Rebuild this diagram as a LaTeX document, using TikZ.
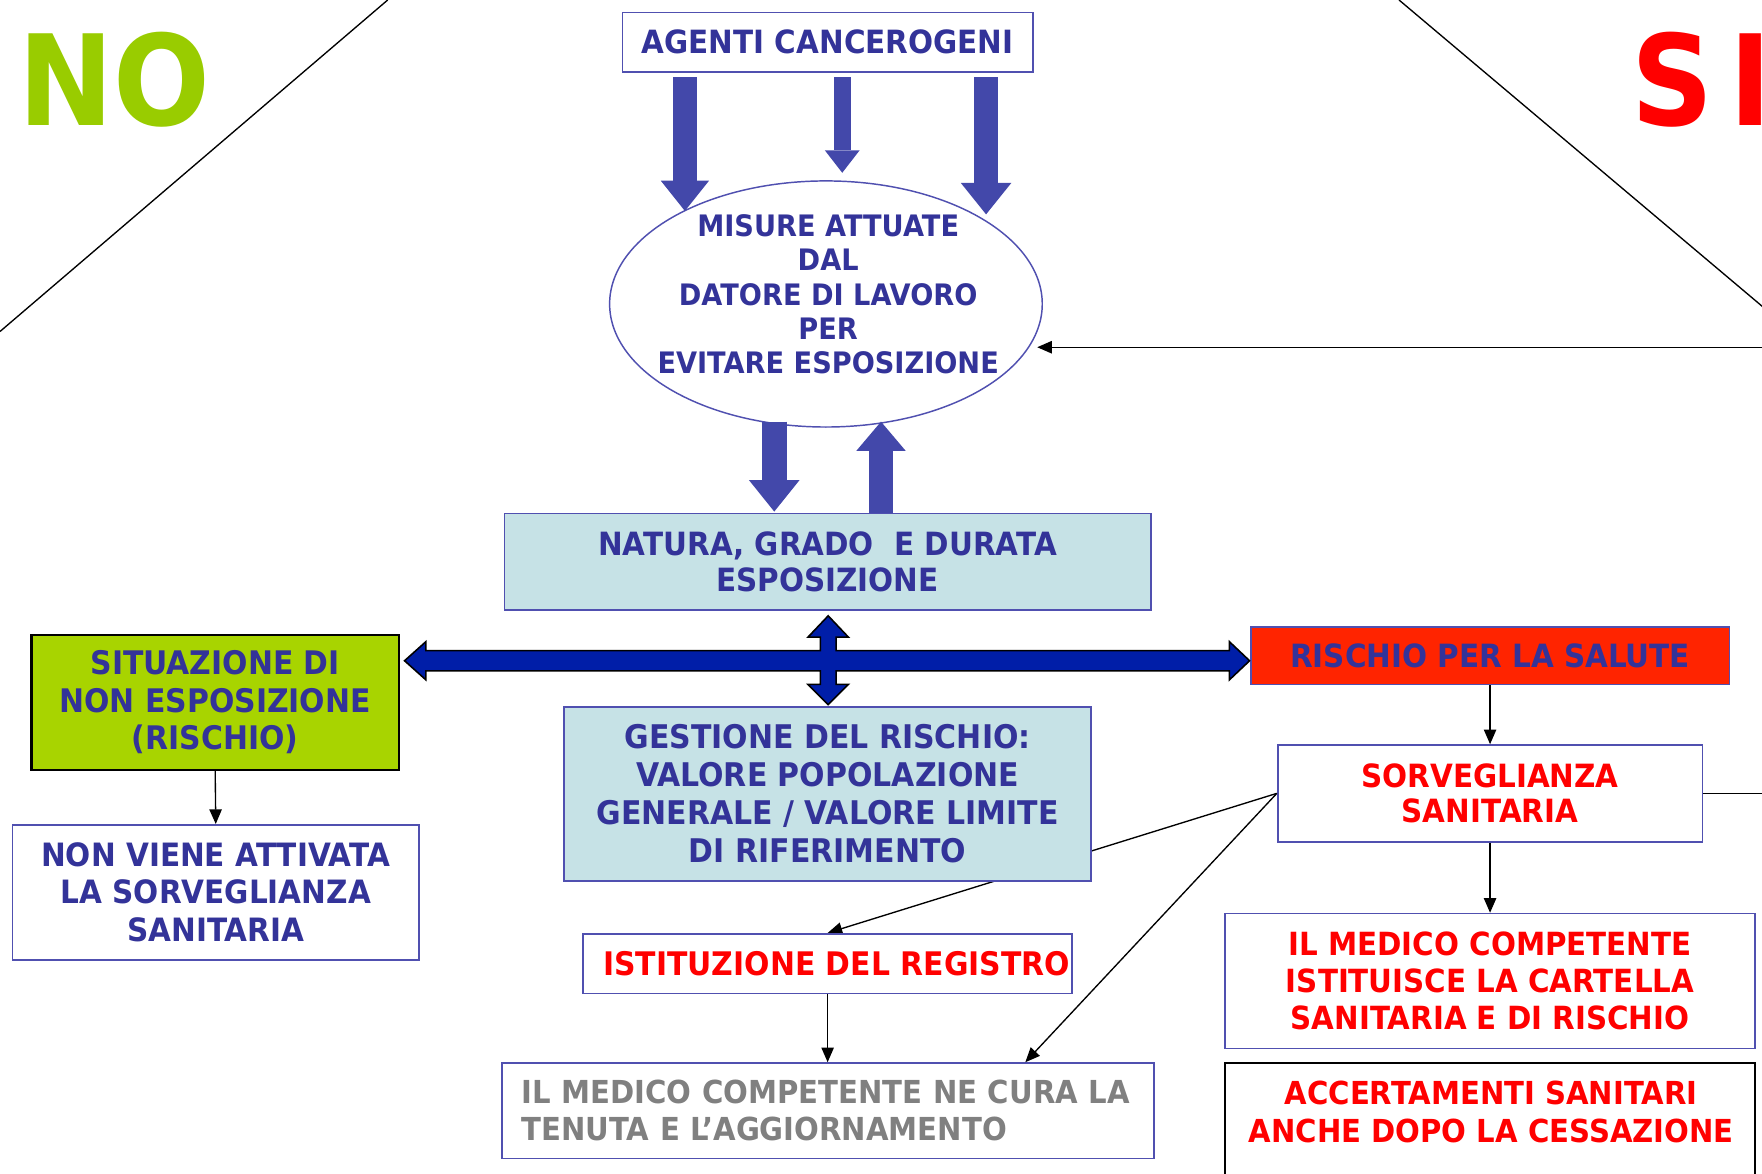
\documentclass[tikz,border=0pt]{standalone}
\usepackage{fontspec}
\setmainfont{DejaVu Sans}
\newfontfamily\dvb[FakeStretch=0.92]{DejaVu Sans}
\newfontfamily\dvbig[FakeStretch=0.905]{DejaVu Sans}
\usetikzlibrary{arrows.meta,shapes.geometric,calc}
\pgfdeclarelayer{bg}
\pgfsetlayers{bg,main}
\definecolor{txtblue}{RGB}{51,51,153}
\definecolor{bordblue}{RGB}{80,80,176}
\definecolor{lightblue}{RGB}{198,226,230}
\definecolor{arrblue}{RGB}{67,72,170}
\definecolor{crossblue}{RGB}{0,30,168}
\definecolor{greenfill}{RGB}{168,212,0}
\definecolor{nogreen}{RGB}{153,204,0}
\definecolor{redfill}{RGB}{255,36,0}
\definecolor{redtxt}{RGB}{255,0,0}
\definecolor{graytxt}{RGB}{128,128,128}
\begin{document}
\begin{tikzpicture}[x=1pt,y=-1pt,
  txt/.style={font=\dvb\bfseries\fontsize{28.5}{33}\selectfont, text=txtblue, align=center, inner sep=0pt},
  box/.style={txt, draw=bordblue, line width=1.5pt, fill=white},
  redt/.style={text=redtxt},
  conn/.style={draw=black, line width=1.2pt, -{Triangle[length=13pt,width=11pt]}},
  fat/.style={draw=arrblue},
  bigtxt/.style={font=\dvbig\bfseries\fontsize{112}{112}\selectfont, inner sep=0pt, anchor=base west}
]
\useasboundingbox (0,0) rectangle (1568,1044);
\begin{pgfonlayer}{bg}
\fill[white] (0,0) rectangle (1568,1044);
\end{pgfonlayer}

% dividers
\draw[line width=1.2pt] (0,295) -- (345,0);
\draw[line width=1.2pt] (1245,0) -- (1590,291);

\node[bigtxt, text=nogreen] (no) at (16,112) {NO};
\node[bigtxt, text=redtxt] (si) at (1452,112) {S\kern14pt I};

% nodes
\node[box, minimum width=365, minimum height=53] (agenti) at (736.5,37.5) {AGENTI CANCEROGENI};
\node[ellipse, draw=bordblue, line width=1.3pt, fill=white, minimum width=385, minimum height=219, inner sep=0pt] (ell) at (735,270.5) {};
\node[txt, font=\dvb\bfseries\fontsize{26.3}{30.5}\selectfont] (elltext) at (737,262) {MISURE ATTUATE\\DAL\\DATORE DI LAVORO\\PER\\EVITARE ESPOSIZIONE};
\node[box, fill=lightblue, minimum width=575, minimum height=86, font=\dvb\bfseries\fontsize{28.5}{32}\selectfont] (nat) at (736.5,500) {NATURA, GRADO\ \ E DURATA\\ESPOSIZIONE};
\node[box, fill=greenfill, draw=black, line width=2pt, minimum width=327, minimum height=120, font=\dvb\bfseries\fontsize{28.9}{33.5}\selectfont] (sit) at (191.5,625) {SITUAZIONE DI\\NON ESPOSIZIONE\\(RISCHIO)};
\node[box, minimum width=362, minimum height=120, font=\dvb\bfseries\fontsize{28.6}{33}\selectfont] (nonv) at (192,794) {NON VIENE ATTIVATA\\LA SORVEGLIANZA\\SANITARIA};
\node[box, fill=lightblue, minimum width=469, minimum height=155, font=\dvb\bfseries\fontsize{29}{33.7}\selectfont] (gest) at (736.5,706.5) {GESTIONE DEL RISCHIO:\\VALORE POPOLAZIONE\\GENERALE / VALORE LIMITE\\DI RIFERIMENTO};
\node[box, fill=redfill, minimum width=426, minimum height=51] (risk) at (1326,583.5) {RISCHIO PER LA SALUTE};
\node[box, redt, minimum width=378, minimum height=86, font=\dvb\bfseries\fontsize{28.5}{32}\selectfont] (sorv) at (1326,706) {SORVEGLIANZA\\SANITARIA};
\node[box, redt, minimum width=435, minimum height=53, font=\dvb\bfseries\fontsize{28.9}{33}\selectfont] (ist) at (736.5,857.5) {\hspace*{16pt}ISTITUZIONE DEL REGISTRO};
\node[box, text=graytxt, minimum width=580, minimum height=85, text width=546, align=left, font=\dvb\bfseries\fontsize{28.2}{33}\selectfont] (medg) at (737,988.5) {IL MEDICO COMPETENTE NE CURA LA\\TENUTA E L’AGGIORNAMENTO};
\node[box, redt, minimum width=472, minimum height=120, font=\dvb\bfseries\fontsize{28.4}{33}\selectfont] (imc) at (1326,873) {IL MEDICO COMPETENTE\\ISTITUISCE LA CARTELLA\\SANITARIA E DI RISCHIO};
\node[draw=black, line width=1.5pt, fill=white, minimum width=472, minimum height=124, inner sep=0pt] (acc) at (1326,1008) {};
\node[txt, redt, font=\dvb\bfseries\fontsize{28.2}{33}\selectfont] (acctext) at (1327,989.5) {ACCERTAMENTI SANITARI\\ANCHE DOPO LA CESSAZIONE};

% fat arrows from AGENTI
\draw[fat, line width=21pt, -{Triangle[length=27pt,width=43pt,line width=0pt]}] ([xshift=-127pt,yshift=-4pt]agenti.south) -- ++(0,119);
\draw[fat, line width=15pt, -{Triangle[length=20pt,width=31pt,line width=0pt]}] ([xshift=13pt,yshift=-4pt]agenti.south) -- ++(0,85);
\draw[fat, line width=22pt, -{Triangle[length=28pt,width=45pt,line width=0pt]}] ([xshift=141pt,yshift=-4pt]agenti.south) -- ++(0,122);
% ellipse <-> natura
\draw[fat, line width=22pt, -{Triangle[length=28pt,width=45pt,line width=0pt]}] ([xshift=-47.5pt,yshift=81pt]nat.north) -- ([xshift=-47.5pt,yshift=1pt]nat.north);
\draw[fat, line width=22pt, -{Triangle[length=26pt,width=44pt,line width=0pt]}] ([xshift=47.5pt]nat.north) -- ++(0,-81);

% cross arrow
\draw[fill=crossblue, draw=black, line width=1.4pt, line join=miter]
 (360,588) -- (379,571) -- (379,579) -- (730,579) -- (730,567) -- (719,567) -- (737,548) -- (755,567) -- (744,567) -- (744,579)
 -- (1094,579) -- (1094,571) -- (1112,588) -- (1094,605) -- (1094,597) -- (744,597) -- (744,609) -- (755,609) -- (737,627)
 -- (719,609) -- (730,609) -- (730,597) -- (379,597) -- (379,605) -- cycle;

% thin connectors
\draw[conn] (sit.south) -- (nonv.north);
\draw[conn] (risk.south) -- (sorv.north);
\draw[conn] (sorv.south) -- (imc.north);
\draw[conn] (ist.south) -- (ist.south |- medg.north);
\coordinate (medgtip) at ($(medg.north west)!0.8017!(medg.north east)$);
\draw[conn] (sorv.west) -- (medgtip);
\coordinate (elltip) at (923,309);
\draw[conn] (sorv.east) -- ++(90,0) |- (elltip);
\begin{pgfonlayer}{bg}
\draw[conn] (sorv.west) -- (ist.north);
\end{pgfonlayer}
\end{tikzpicture}
\end{document}
